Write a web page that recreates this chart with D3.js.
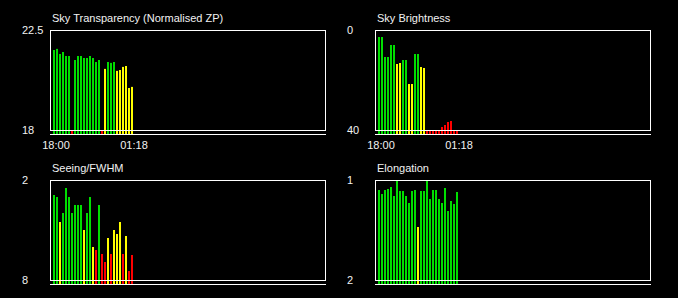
<!DOCTYPE html>
<html>
<head>
<meta charset="utf-8">
<script src="https://cdn.jsdelivr.net/npm/d3@7"></script>
<style>
  body { margin: 0; background: #000; }
  svg { display: block; }
</style>
</head>
<body>
<div id="chart"></div>
<script>
// samples through the night, 18:00 .. 01:18
var tickIndex = [0, 26];
var tickLabels = ["18:00", "01:18"];

var transparency = [21.6, 21.65, 21.42, 21.51, 21.33, 21.33, 17.9, 21.15, 21.33, 21.33, 21.24, 21.24, 21.33, 21.24,
    21.06, 21.15, 17.9, 20.75, 21.06, 21.02, 21.06, 20.66, 20.7, 20.84, 20.88, 19.89, 19.94];
var transparencyQ = "ggggggrgggggggggryggg yyyyyy".replace(/ /g, "").split("");

var brightness = [2.8, 2.8, 10.8, 10.8, 6, 6, 13.6, 13.2, 12, 12, 21.6, 21.6, 9.6, 9.6,
    14.8, 15.2, 40.5, 40.5, 40.5, 40.5, 40.5, 38.8, 38, 36.8, 36.4, 40.5, 40.5];
var brightnessQ = "ggggggyyggyyggyyrrrrrrrrrrr".split("");

var seeing = [2.9, 3.02, 4.52, 3.98, 2.48, 3.02, 3.98, 3.5, 3.5, 3.5, 5.0, 3.98, 3.02, 6.02,
    6.2, 3.5, 6.44, 6.92, 5.48, 6.44, 5.0, 5.24, 4.52, 6.44, 5.36, 7.46, 6.5];
var seeingQ = "ggygggggggyggyrgrryryyyryrr".split("");

var elongation = [1.10, 1.14, 1.10, 1.09, 1.07, 1.16, 1.0, 1.11, 1.11, 1.16, 1.23, 1.11, 1.10, 1.47,
    1.11, 1.11, 1.0, 1.19, 1.10, 1.10, 1.19, 1.23, 1.08, 1.31, 1.21, 1.24, 1.12];
var elongationQ = "gggggggggggggyggggggggggggg".split("");

var colors = { g: "#00dd00", y: "#ffff00", r: "#ff0000" };

var width = 678, height = 298;
var boxW = 275, boxH = 100;
var barStep = 3, barWidth = 2;
var slotCount = 90; // slots that fit in the box

var panels = [
    { title: "Sky Transparency (Normalised ZP)", values: transparency, quality: transparencyQ,
      domain: [18, 22.5], labels: ["22.5", "18"], left: 50, top: 30, times: true },
    { title: "Sky Brightness", values: brightness, quality: brightnessQ,
      domain: [40, 0], labels: ["0", "40"], left: 375, top: 30, times: true },
    { title: "Seeing/FWHM", values: seeing, quality: seeingQ,
      domain: [8, 2], labels: ["2", "8"], left: 50, top: 180, times: false },
    { title: "Elongation", values: elongation, quality: elongationQ,
      domain: [2, 1], labels: ["1", "2"], left: 375, top: 180, times: false }
];

var svg = d3.select("#chart").append("svg")
    .attr("width", width)
    .attr("height", height)
    .style("background", "#000");

panels.forEach(function (p) {
    var g = svg.append("g").attr("transform", "translate(" + p.left + "," + p.top + ")");

    var x = d3.scaleLinear()
        .domain([0, slotCount])
        .range([3, 3 + slotCount * barStep]);

    var y = d3.scaleLinear()
        .domain(p.domain)
        .range([boxH, 0])
        .clamp(true);

    var base = boxH + 5;

    g.append("text")
        .attr("x", 2)
        .attr("y", -8)
        .attr("fill", "#f2f2f2")
        .attr("font-family", "Liberation Sans, Arial, sans-serif")
        .attr("font-size", "11px")
        .text(p.title);

    // value labels at the top and bottom of the box
    g.selectAll(".vlab")
        .data(p.labels)
        .enter().append("text")
        .attr("class", "vlab")
        .attr("x", -28)
        .attr("y", function (d, i) { return i === 0 ? 0 : boxH; })
        .attr("dy", "0.35em")
        .attr("fill", "#f2f2f2")
        .attr("font-family", "Liberation Sans, Arial, sans-serif")
        .attr("font-size", "11px")
        .text(function (d) { return d; });

    g.selectAll("rect.bar")
        .data(p.values)
        .enter().append("rect")
        .attr("class", "bar")
        .attr("x", function (d, i) { return x(i); })
        .attr("y", function (d) { return y(d); })
        .attr("width", barWidth)
        .attr("height", function (d) { return base - y(d); })
        .attr("fill", function (d, i) { return colors[p.quality[i]]; });

    g.append("rect")
        .attr("x", 0.5)
        .attr("y", 0.5)
        .attr("width", boxW)
        .attr("height", boxH)
        .attr("fill", "none")
        .attr("stroke", "#fff")
        .attr("stroke-width", 1);

    g.append("line")
        .attr("x1", 0)
        .attr("x2", boxW + 1)
        .attr("y1", boxH + 4.5)
        .attr("y2", boxH + 4.5)
        .attr("stroke", "#fff")
        .attr("stroke-width", 1);

    if (p.times) {
        g.selectAll(".tlab")
            .data(tickLabels)
            .enter().append("text")
            .attr("class", "tlab")
            .attr("x", function (d, i) { return x(tickIndex[i]) + barWidth / 2 + 2; })
            .attr("y", boxH + 19)
            .attr("text-anchor", "middle")
            .attr("fill", "#f2f2f2")
            .attr("font-family", "Liberation Sans, Arial, sans-serif")
            .attr("font-size", "11px")
            .text(function (d) { return d; });
    }
});
</script>
</body>
</html>
